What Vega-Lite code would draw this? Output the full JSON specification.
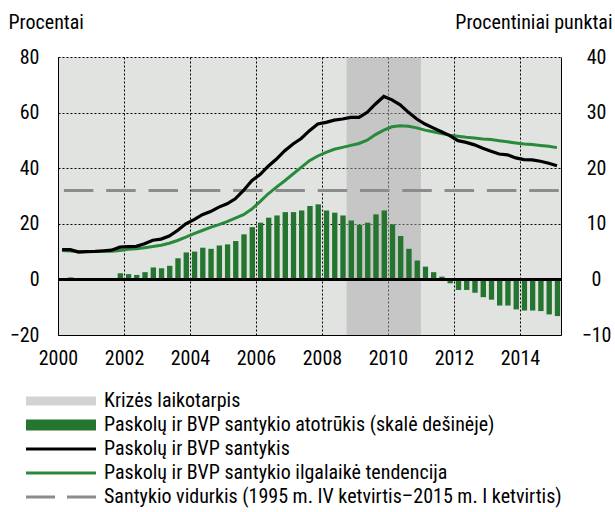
{
  "$schema": "https://vega.github.io/schema/vega-lite/v6.json",
  "autosize": {"type": "none"},
  "padding": {"left": 58, "top": 57, "right": 54, "bottom": 177},
  "width": 503,
  "height": 278,
  "background": "white",
  "config": {
    "font": "Roboto Condensed, DejaVu Sans Condensed, Liberation Sans",
    "view": {"fill": "#e0e3e0", "stroke": null},
    "axis": {"labelFont": "Roboto Condensed, DejaVu Sans Condensed, Liberation Sans", "titleFont": "Roboto Condensed, DejaVu Sans Condensed, Liberation Sans", "labelFontSize": 20, "titleFontSize": 20, "labelColor": "#000", "titleColor": "#000", "titleFontWeight": "normal"},
    "legend": {"labelFont": "Roboto Condensed, DejaVu Sans Condensed, Liberation Sans", "labelFontSize": 20, "labelColor": "#000", "labelLimit": 1000}
  },
  "datasets": {
    "q": [
      {"date": "2000-01-01", "gap": 0.1, "ratio": 10.7, "trend": 10.4},
      {"date": "2000-04-01", "gap": 0.36, "ratio": 10.7, "trend": 10.2},
      {"date": "2000-07-01", "gap": -0.1, "ratio": 9.8, "trend": 10.0},
      {"date": "2000-10-01", "gap": 0.0, "ratio": 10.0, "trend": 10.0},
      {"date": "2001-01-01", "gap": 0.1, "ratio": 10.1, "trend": 10.0},
      {"date": "2001-04-01", "gap": 0.05, "ratio": 10.3, "trend": 10.0},
      {"date": "2001-07-01", "gap": 0.2, "ratio": 10.5, "trend": 10.1},
      {"date": "2001-10-01", "gap": 1.1, "ratio": 11.6, "trend": 10.4},
      {"date": "2002-01-01", "gap": 0.95, "ratio": 11.8, "trend": 10.8},
      {"date": "2002-04-01", "gap": 0.8, "ratio": 11.9, "trend": 11.0},
      {"date": "2002-07-01", "gap": 1.3, "ratio": 12.8, "trend": 11.4},
      {"date": "2002-10-01", "gap": 2.15, "ratio": 14.1, "trend": 11.8},
      {"date": "2003-01-01", "gap": 2.0, "ratio": 14.5, "trend": 12.3},
      {"date": "2003-04-01", "gap": 2.45, "ratio": 15.6, "trend": 13.0},
      {"date": "2003-07-01", "gap": 3.8, "ratio": 17.6, "trend": 14.0},
      {"date": "2003-10-01", "gap": 4.85, "ratio": 20.0, "trend": 15.2},
      {"date": "2004-01-01", "gap": 5.0, "ratio": 21.5, "trend": 16.5},
      {"date": "2004-04-01", "gap": 5.7, "ratio": 23.3, "trend": 17.6},
      {"date": "2004-07-01", "gap": 5.5, "ratio": 24.4, "trend": 18.7},
      {"date": "2004-10-01", "gap": 6.1, "ratio": 26.0, "trend": 19.7},
      {"date": "2005-01-01", "gap": 6.3, "ratio": 27.2, "trend": 20.8},
      {"date": "2005-04-01", "gap": 6.9, "ratio": 29.0, "trend": 22.0},
      {"date": "2005-07-01", "gap": 8.1, "ratio": 32.0, "trend": 23.3},
      {"date": "2005-10-01", "gap": 9.4, "ratio": 35.5, "trend": 25.3},
      {"date": "2006-01-01", "gap": 10.2, "ratio": 37.7, "trend": 28.0},
      {"date": "2006-04-01", "gap": 11.1, "ratio": 40.7, "trend": 30.8},
      {"date": "2006-07-01", "gap": 11.5, "ratio": 43.3, "trend": 33.2},
      {"date": "2006-10-01", "gap": 12.1, "ratio": 46.3, "trend": 35.5},
      {"date": "2007-01-01", "gap": 12.1, "ratio": 48.7, "trend": 37.9},
      {"date": "2007-04-01", "gap": 12.4, "ratio": 50.7, "trend": 40.3},
      {"date": "2007-07-01", "gap": 13.2, "ratio": 53.5, "trend": 42.7},
      {"date": "2007-10-01", "gap": 13.5, "ratio": 55.9, "trend": 44.4},
      {"date": "2008-01-01", "gap": 12.4, "ratio": 56.5, "trend": 45.7},
      {"date": "2008-04-01", "gap": 12.0, "ratio": 57.3, "trend": 46.8},
      {"date": "2008-07-01", "gap": 11.5, "ratio": 57.7, "trend": 47.5},
      {"date": "2008-10-01", "gap": 10.6, "ratio": 58.3, "trend": 48.2},
      {"date": "2009-01-01", "gap": 9.8, "ratio": 58.3, "trend": 48.9},
      {"date": "2009-04-01", "gap": 10.2, "ratio": 60.1, "trend": 50.1},
      {"date": "2009-07-01", "gap": 11.7, "ratio": 63.1, "trend": 52.1},
      {"date": "2009-10-01", "gap": 12.4, "ratio": 65.8, "trend": 53.7},
      {"date": "2010-01-01", "gap": 9.9, "ratio": 64.6, "trend": 54.9},
      {"date": "2010-04-01", "gap": 7.8, "ratio": 62.8, "trend": 55.3},
      {"date": "2010-07-01", "gap": 5.5, "ratio": 60.1, "trend": 55.1},
      {"date": "2010-10-01", "gap": 3.4, "ratio": 57.7, "trend": 54.5},
      {"date": "2011-01-01", "gap": 2.3, "ratio": 55.9, "trend": 53.7},
      {"date": "2011-04-01", "gap": 1.3, "ratio": 54.5, "trend": 53.1},
      {"date": "2011-07-01", "gap": 0.5, "ratio": 53.1, "trend": 52.5},
      {"date": "2011-10-01", "gap": -0.7, "ratio": 51.7, "trend": 51.9},
      {"date": "2012-01-01", "gap": -1.9, "ratio": 49.9, "trend": 51.5},
      {"date": "2012-04-01", "gap": -1.9, "ratio": 49.3, "trend": 51.1},
      {"date": "2012-07-01", "gap": -2.4, "ratio": 48.4, "trend": 50.9},
      {"date": "2012-10-01", "gap": -3.2, "ratio": 47.2, "trend": 50.5},
      {"date": "2013-01-01", "gap": -3.65, "ratio": 46.1, "trend": 50.3},
      {"date": "2013-04-01", "gap": -4.7, "ratio": 45.1, "trend": 49.9},
      {"date": "2013-07-01", "gap": -4.7, "ratio": 44.8, "trend": 49.5},
      {"date": "2013-10-01", "gap": -5.4, "ratio": 43.7, "trend": 49.1},
      {"date": "2014-01-01", "gap": -5.6, "ratio": 43.1, "trend": 48.7},
      {"date": "2014-04-01", "gap": -5.6, "ratio": 43.0, "trend": 48.5},
      {"date": "2014-07-01", "gap": -5.7, "ratio": 42.5, "trend": 48.2},
      {"date": "2014-10-01", "gap": -6.3, "ratio": 41.8, "trend": 47.9},
      {"date": "2015-01-01", "gap": -6.6, "ratio": 40.9, "trend": 47.4}
    ],
    "crisis": [{"start": "2008-10-01", "end": "2011-01-01"}],
    "mean": [{"value": 32}]
  },
  "layer": [
    {
      "data": {"name": "crisis"},
      "mark": {"type": "rect", "fill": "#aaaaaa", "opacity": 0.5},
      "encoding": {
        "x": {"field": "start", "type": "temporal",
              "scale": {"type": "utc", "domain": [{"year": 2000, "month": 1, "date": 1, "utc": true}, {"year": 2015, "month": 4, "date": 1, "utc": true}], "nice": false},
              "axis": {"title": null, "format": "%Y", "values": [{"year": 2000, "utc": true}, {"year": 2002, "utc": true}, {"year": 2004, "utc": true}, {"year": 2006, "utc": true}, {"year": 2008, "utc": true}, {"year": 2010, "utc": true}, {"year": 2012, "utc": true}, {"year": 2014, "utc": true}],
                       "domainColor": "#000", "domainWidth": 1, "ticks": false, "labelPadding": 13, "labelBaseline": "top", "labelFlush": false,
                       "grid": true, "gridColor": "#000", "gridDash": [2, 2], "gridWidth": 1, "gridOpacity": 1}},
        "x2": {"field": "end"}
      }
    },
    {
      "data": {"name": "q"},
      "mark": {"type": "bar", "width": {"band": 0.77}},
      "encoding": {
        "x": {"field": "date", "type": "temporal", "timeUnit": "utcyearquarter"},
        "y": {"field": "gap", "type": "quantitative", "scale": {"domain": [-10, 40], "nice": false, "zero": false},
              "axis": {"orient": "right", "values": [-10, 0, 10, 20, 30, 40], "title": "Procentiniai punktai", "titleAngle": 0, "titleAlign": "right", "titleBaseline": "alphabetic", "titleX": 51, "titleY": -29,
                       "ticks": false, "labelPadding": 35, "labelAlign": "center", "labelBaseline": "middle", "domainColor": "#000", "grid": false}},
        "color": {"datum": "Paskolų ir BVP santykio atotrūkis (skalė dešinėje)", "type": "nominal",
                  "scale": {"domain": ["Krizės laikotarpis", "Paskolų ir BVP santykio atotrūkis (skalė dešinėje)", "Paskolų ir BVP santykis", "Paskolų ir BVP santykio ilgalaikė tendencija", "Santykio vidurkis (1995 m. IV ketvirtis–2015 m. I ketvirtis)"],
                            "range": ["#d3d3d3", "#257530", "#000000", "#2a8a3b", "#8c8c8c"]},
                  "legend": {"orient": "none", "legendX": -7, "legendY": 334, "title": null, "direction": "vertical", "symbolSize": 100, "rowPadding": 4, "labelOffset": 33, "labelBaseline": "middle", "labelLimit": 1000,
                             "encode": {"symbols": {"update": {
                               "shape": {"signal": "datum.index == 0 ? 'M-7,-0.9H7V0.9H-7Z' : datum.index == 1 ? 'M-7,-1.1H7V1.1H-7Z' : 'M-7,0H7'"},
                               "fill": {"signal": "datum.index == 0 ? '#d3d3d3' : datum.index == 1 ? '#257530' : 'transparent'"},
                               "stroke": {"signal": "datum.index == 2 ? '#000000' : datum.index == 3 ? '#2a8a3b' : datum.index == 4 ? '#8c8c8c' : 'transparent'"},
                               "strokeWidth": {"signal": "datum.index >= 2 ? 3 : 0"},
                               "strokeDash": {"signal": "datum.index == 4 ? [29, 12] : []"},
                               "opacity": {"value": 1}
                             }}}}}
      }
    },
    {
      "layer": [
        {
          "data": {"name": "mean"},
          "mark": {"type": "rule", "strokeWidth": 3, "strokeDash": [29.5, 12.8], "strokeDashOffset": 40},
          "encoding": {
            "y": {"field": "value", "type": "quantitative", "scale": {"domain": [-20, 80], "nice": false, "zero": false},
                  "axis": {"orient": "left", "values": [-20, 0, 20, 40, 60, 80], "title": "Procentai", "titleAngle": 0, "titleAlign": "left", "titleBaseline": "alphabetic", "titleX": -50, "titleY": -29,
                           "ticks": false, "labelPadding": 19, "labelBaseline": "middle", "domainColor": "#000",
                           "grid": true, "gridColor": "#000", "gridDash": [2, 2], "gridWidth": 1, "gridOpacity": 1}},
            "color": {"datum": "Santykio vidurkis (1995 m. IV ketvirtis–2015 m. I ketvirtis)", "type": "nominal"}
          }
        },
        {
          "data": {"name": "q"},
          "mark": {"type": "rule", "color": "#000", "strokeWidth": 1.5},
          "encoding": {"y": {"datum": 0, "type": "quantitative"}}
        },
        {
          "data": {"name": "q"},
          "mark": {"type": "line", "strokeWidth": 3},
          "encoding": {
            "x": {"field": "date", "type": "temporal", "timeUnit": "utcyearquarter", "bandPosition": 0.5},
            "y": {"field": "trend", "type": "quantitative"},
            "color": {"datum": "Paskolų ir BVP santykio ilgalaikė tendencija", "type": "nominal"}
          }
        },
        {
          "data": {"name": "q"},
          "mark": {"type": "line", "strokeWidth": 3.2},
          "encoding": {
            "x": {"field": "date", "type": "temporal", "timeUnit": "utcyearquarter", "bandPosition": 0.5},
            "y": {"field": "ratio", "type": "quantitative"},
            "color": {"datum": "Paskolų ir BVP santykis", "type": "nominal"}
          }
        }
      ]
    }
  ],
  "resolve": {"scale": {"y": "independent"}}
}
